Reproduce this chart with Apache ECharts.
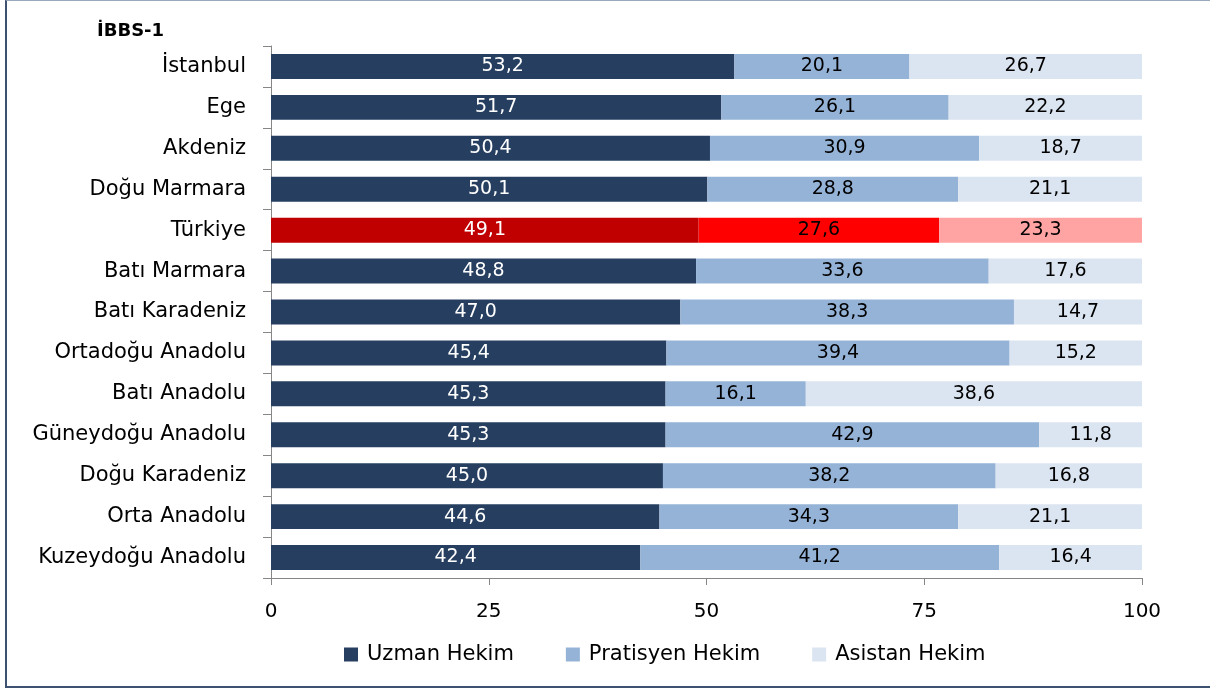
<!DOCTYPE html>
<html>
<head>
<meta charset="utf-8">
<script src="https://cdn.jsdelivr.net/npm/echarts@6/dist/echarts.min.js"></script>
<style>
  html, body { margin: 0; padding: 0; background: #fff; overflow: hidden; }
  #frame { position: absolute; left: 5px; top: 0px; width: 1210px; height: 688px; border-top: 1px solid #9aa8bb; border-left: 2px solid #3c5270; border-bottom: 2px solid #3c5270; box-sizing: border-box; }
  #chart { position: absolute; left: 0; top: 0; width: 1210px; height: 688px; }
</style>
</head>
<body>
<div id="frame"></div>
<div id="chart"></div>
<script>
// Regions (NUTS-1), top to bottom
const regions = ['İstanbul', 'Ege', 'Akdeniz', 'Doğu Marmara', 'Türkiye', 'Batı Marmara', 'Batı Karadeniz',
  'Ortadoğu Anadolu', 'Batı Anadolu', 'Güneydoğu Anadolu', 'Doğu Karadeniz', 'Orta Anadolu', 'Kuzeydoğu Anadolu'];
// Share of physicians by type (%)
const uzman = [53.2, 51.7, 50.4, 50.1, 49.1, 48.8, 47.0, 45.4, 45.3, 45.3, 45.0, 44.6, 42.4];
const pratisyen = [20.1, 26.1, 30.9, 28.8, 27.6, 33.6, 38.3, 39.4, 16.1, 42.9, 38.2, 34.3, 41.2];
const asistan = [26.7, 22.2, 18.7, 21.1, 23.3, 17.6, 14.7, 15.2, 38.6, 11.8, 16.8, 21.1, 16.4];
const seriesNames = ['Uzman Hekim', 'Pratisyen Hekim', 'Asistan Hekim'];
const xTicks = [0, 25, 50, 75, 100];

const FONT = '"DejaVu Sans", sans-serif';
const baseColors = ['#263f60', '#95b3d7', '#dbe5f1'];
const nationalColors = ['#c00000', '#ff0000', '#ffa3a3'];
const labelColors = ['#ffffff', '#000000', '#000000'];
const nationalIdx = regions.indexOf('Türkiye');

function buildData(values, k) {
  return values.map((v, i) => i === nationalIdx
    ? { value: v, itemStyle: { color: nationalColors[k] } }
    : v);
}

const fmt = p => p.value.toFixed(1).replace('.', ',');

const chart = echarts.init(document.getElementById('chart'), null, { renderer: 'canvas' });
chart.setOption({
  backgroundColor: 'transparent',
  animation: false,
  title: {
    text: 'İBBS-1', left: 92, top: 17,
    textStyle: { fontFamily: FONT, fontSize: 18, fontWeight: 'bold', color: '#000' }
  },
  legend: {
    top: 639, left: 339, itemGap: 52, itemWidth: 14, itemHeight: 14,
    icon: 'rect',
    textStyle: { fontFamily: FONT, fontSize: 21, color: '#000', padding: [0, 0, 0, 4] },
    data: seriesNames
  },
  grid: { left: 271, right: 68, top: 46, bottom: 110, containLabel: false },
  xAxis: {
    type: 'value', min: 0, max: 100, interval: 25,
    axisLine: { show: true, lineStyle: { color: '#868686' } },
    axisTick: { show: true, length: 7, lineStyle: { color: '#868686' } },
    splitLine: { show: false },
    axisLabel: { fontFamily: FONT, fontSize: 20, color: '#000', margin: 24,
      formatter: v => xTicks.includes(v) ? String(v) : '' }
  },
  yAxis: {
    type: 'category', inverse: true, data: regions,
    axisLine: { show: true, lineStyle: { color: '#868686' } },
    axisTick: { show: true, length: 8, lineStyle: { color: '#868686' } },
    axisLabel: { fontFamily: FONT, fontSize: 21, color: '#000', margin: 25 }
  },
  series: [uzman, pratisyen, asistan].map((vals, k) => ({
    name: seriesNames[k],
    type: 'bar',
    stack: 'total',
    barCategoryGap: '39%',
    itemStyle: { color: baseColors[k] },
    label: {
      show: true, position: 'inside', formatter: fmt,
      fontFamily: FONT, fontSize: 19, color: labelColors[k]
    },
    data: buildData(vals, k)
  }))
});
</script>
</body>
</html>
